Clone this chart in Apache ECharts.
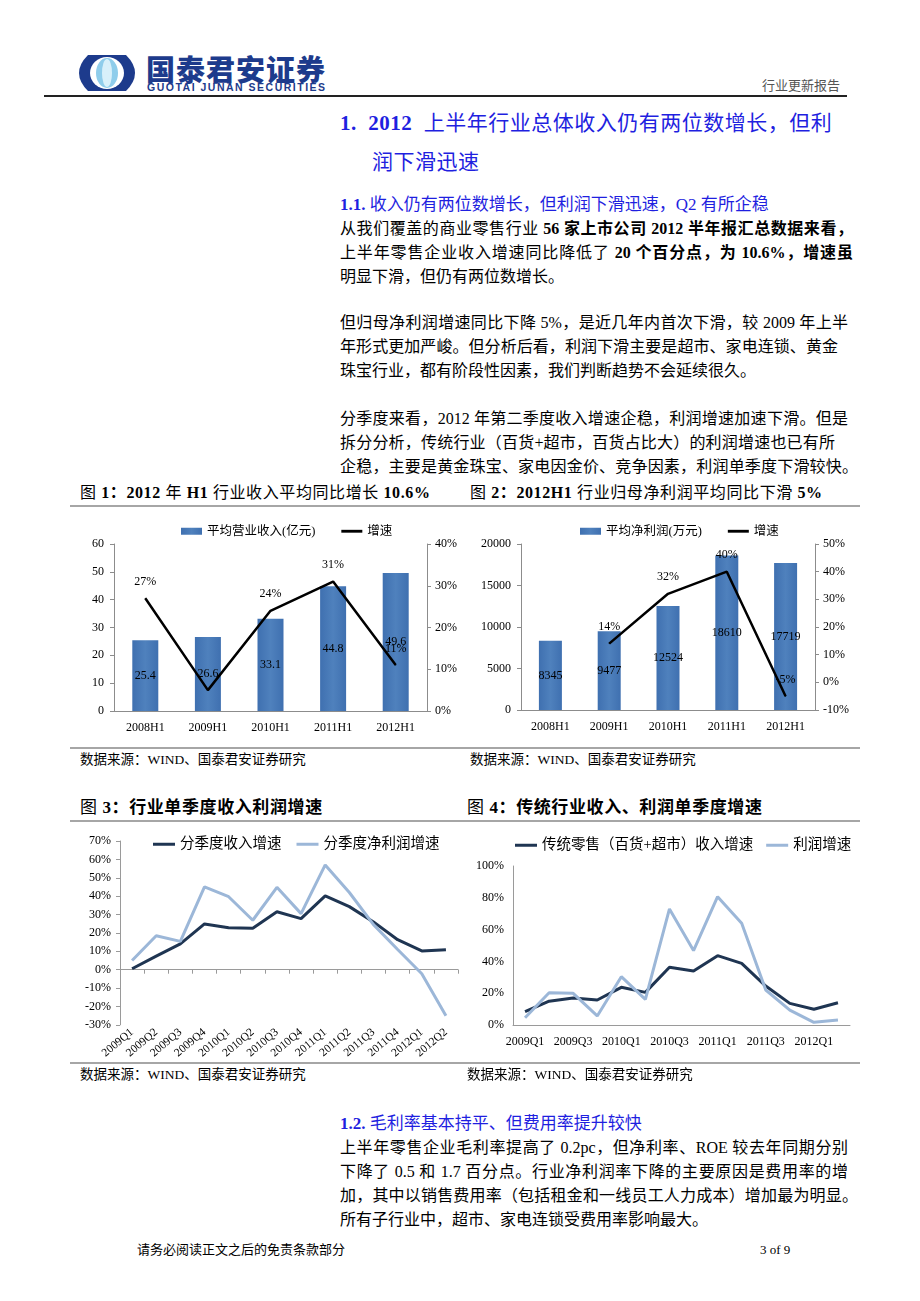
<!DOCTYPE html>
<html>
<head>
<meta charset="utf-8">
<script src="https://cdn.jsdelivr.net/npm/echarts@6/dist/echarts.min.js"></script>
<style>
html,body{margin:0;padding:0;background:#fff;}
body{width:920px;height:1301px;position:relative;overflow:hidden;font-family:"Liberation Serif","Noto Sans CJK SC",serif;color:#000;}
.t{position:absolute;white-space:nowrap;}
.body{font-size:16px;line-height:20px;}
.j{width:513px;text-align:justify;text-align-last:justify;}
.blue{color:#1f1fe0;}
.cap{font-size:16px;line-height:20px;letter-spacing:0.6px;}
.cap b,.body b{font-weight:bold;}
.rule{position:absolute;height:0;border-top:2px solid #a6a6a6;}
.src{font-size:13.5px;line-height:18px;}
.chart{position:absolute;}
</style>
</head>
<body>
<!-- header -->
<svg style="position:absolute;left:78px;top:54px" width="58" height="38" viewBox="0 0 58 38">
  <path d="M10,1 L48,1 Q57,10 57,19 Q57,28 48,37 L10,37 Q1,28 1,19 Q1,10 10,1 Z" fill="#1d3b8c"/>
  <ellipse cx="29" cy="19" rx="17" ry="16" fill="#ffffff"/>
  <ellipse cx="29" cy="19" rx="11" ry="15" fill="#8fcdeb"/>
  <ellipse cx="29" cy="19" rx="5" ry="14" fill="#d8f0fa"/>
</svg>
<div class="t" style="left:146px;top:52px;font-size:29px;line-height:32px;font-weight:900;color:#1d3b8c;font-family:'Noto Sans CJK SC';letter-spacing:1px;">国泰君安证券</div>
<div class="t" style="left:147px;top:81px;font-size:10.5px;line-height:12px;font-weight:bold;color:#1d3b8c;font-family:'Liberation Sans','DejaVu Sans';letter-spacing:1.5px;">GUOTAI JUNAN SECURITIES</div>
<div class="t" style="left:762px;top:76px;font-size:13px;line-height:18px;color:#555;font-family:'Noto Sans CJK SC';">行业更新报告</div>
<div style="position:absolute;left:44px;top:95px;width:803px;height:0;border-top:2px solid #222;"></div>

<div class="t blue" style="left:340px;top:110px;font-size:21px;line-height:26px;letter-spacing:0.5px;"><b>1.&nbsp;&nbsp;2012</b>&nbsp; 上半年行业总体收入仍有两位数增长，但利</div>
<div class="t blue" style="left:372px;top:149px;font-size:21px;line-height:26px;letter-spacing:0.5px;">润下滑迅速</div>
<div class="t blue" style="left:340px;top:194px;font-size:17px;line-height:22px;"><b>1.1.</b> 收入仍有两位数增长，但利润下滑迅速，Q2 有所企稳</div>

<div class="t body j" style="left:340px;top:219px;">从我们覆盖的商业零售行业 <b>56 家上市公司 2012 半年报汇总数据来看，</b></div>
<div class="t body j" style="left:340px;top:243px;">上半年零售企业收入增速同比降低了 <b>20 个百分点，为 10.6%，增速虽</b></div>
<div class="t body" style="left:340px;top:267px;">明显下滑，但仍有两位数增长。</div>

<div class="t body j" style="left:340px;top:313px;width:508px;">但归母净利润增速同比下降 5%，是近几年内首次下滑，较 2009 年上半</div>
<div class="t body j" style="left:340px;top:337px;width:498px;">年形式更加严峻。但分析后看，利润下滑主要是超市、家电连锁、黄金</div>
<div class="t body" style="left:340px;top:361px;">珠宝行业，都有阶段性因素，我们判断趋势不会延续很久。</div>

<div class="t body j" style="left:340px;top:409px;width:508px;">分季度来看，2012 年第二季度收入增速企稳，利润增速加速下滑。但是</div>
<div class="t body j" style="left:340px;top:433px;width:495px;">拆分分析，传统行业（百货+超市，百货占比大）的利润增速也已有所</div>
<div class="t body j" style="left:340px;top:457px;width:518px;">企稳，主要是黄金珠宝、家电因金价、竞争因素，利润单季度下滑较快。</div>

<!-- figure 1/2 titles -->
<div class="t cap" style="left:80px;top:483px;">图 <b>1：2012</b> 年 <b>H1</b> 行业收入平均同比增长 <b>10.6%</b></div>
<div class="t cap" style="left:470px;top:483px;">图 <b>2：2012H1</b> 行业归母净利润平均同比下滑 <b>5%</b></div>
<div class="rule" style="left:70px;top:505px;width:790px;"></div>
<div id="c1" class="chart" style="left:70px;top:510px;width:390px;height:235px;"></div>
<div id="c2" class="chart" style="left:460px;top:510px;width:400px;height:235px;"></div>
<div class="rule" style="left:70px;top:747px;width:790px;"></div>
<div class="t src" style="left:80px;top:751px;">数据来源：WIND、国泰君安证券研究</div>
<div class="t src" style="left:470px;top:751px;">数据来源：WIND、国泰君安证券研究</div>

<!-- figure 3/4 -->
<div class="t cap" style="left:80px;top:798px;font-size:17px;">图 <b>3：行业单季度收入利润增速</b></div>
<div class="t cap" style="left:467px;top:798px;font-size:17px;">图 <b>4：传统行业收入、利润单季度增速</b></div>
<div class="rule" style="left:70px;top:820px;width:790px;"></div>
<div id="c3" class="chart" style="left:70px;top:825px;width:395px;height:236px;"></div>
<div id="c4" class="chart" style="left:460px;top:825px;width:400px;height:236px;"></div>
<div class="rule" style="left:70px;top:1062px;width:790px;"></div>
<div class="t src" style="left:80px;top:1066px;">数据来源：WIND、国泰君安证券研究</div>
<div class="t src" style="left:467px;top:1066px;">数据来源：WIND、国泰君安证券研究</div>

<div class="t blue" style="left:340px;top:1113px;font-size:17px;line-height:22px;"><b>1.2.</b> 毛利率基本持平、但费用率提升较快</div>
<div class="t body j" style="left:340px;top:1138px;width:508px;">上半年零售企业毛利率提高了 0.2pc，但净利率、ROE 较去年同期分别</div>
<div class="t body j" style="left:340px;top:1162px;width:508px;">下降了 0.5 和 1.7 百分点。行业净利润率下降的主要原因是费用率的增</div>
<div class="t body j" style="left:340px;top:1186px;width:518px;">加，其中以销售费用率（包括租金和一线员工人力成本）增加最为明显。</div>
<div class="t body" style="left:340px;top:1210px;">所有子行业中，超市、家电连锁受费用率影响最大。</div>

<div class="t" style="left:137px;top:1241px;font-size:13px;line-height:18px;">请务必阅读正文之后的免责条款部分</div>
<div class="t" style="left:760px;top:1241px;font-size:13px;line-height:18px;">3 of 9</div>

<script>
// ---- data ----
const h1Cats = ['2008H1', '2009H1', '2010H1', '2011H1', '2012H1'];
const avgRevenue = [25.4, 26.6, 33.1, 44.8, 49.6];
const revenueGrowth = [27, 5, 24, 31, 11];
const avgProfit = [8345, 9477, 12524, 18610, 17719];
const profitGrowth = [null, 14, 32, 40, -5];

const quarters = ['2009Q1','2009Q2','2009Q3','2009Q4','2010Q1','2010Q2','2010Q3','2010Q4',
                  '2011Q1','2011Q2','2011Q3','2011Q4','2012Q1','2012Q2'];
const qRevenueGrowth = [0.5, 7.4, 14, 24.9, 22.8, 22.5, 31.5, 27.8, 40.2, 34.3, 26, 16.3, 10.2, 10.9];
const qProfitGrowth = [5, 18.5, 15.4, 45, 39.7, 26.9, 44.8, 30.5, 57, 42, 24.5, 11, -2.2, -25];
const tradRevenueGrowth = [8.4, 15, 17, 15.7, 23.7, 20.5, 36.3, 34, 43.6, 38.8, 24.5, 13.6, 9.9, 14];
const tradProfitGrowth = [4.6, 20.3, 19.9, 5.7, 30.4, 16.1, 73, 46.8, 80.7, 64, 22, 9.4, 1.7, 3.1];

const FONT = "'Liberation Serif','Noto Sans CJK SC',serif";
const BAR = new echarts.graphic.LinearGradient(0, 0, 1, 0, [
  {offset: 0, color: '#3f70b0'}, {offset: 0.5, color: '#4f81bd'}, {offset: 1, color: '#3f70b0'}]);
const AX = {lineStyle: {color: '#8c8c8c', width: 1}};
const LBL = {color: '#000', fontSize: 12, fontFamily: FONT};
const LINE_ICON = 'path://M0,0H22V3H0Z';

function barLineChart(el, cfg) {
  const c = echarts.init(document.getElementById(el), null, {renderer: 'canvas'});
  c.setOption({
    animation: false,
    textStyle: {fontFamily: FONT},
    legend: {
      top: 10, left: cfg.legendLeft, itemWidth: 21, itemHeight: 7, itemGap: 26,
      textStyle: {color: '#000', fontSize: 12.5, fontFamily: FONT},
      data: [{name: cfg.barName, icon: 'rect'}, {name: '增速', icon: LINE_ICON}]
    },
    grid: cfg.grid,
    xAxis: {type: 'category', data: h1Cats, axisLine: AX, axisTick: {show: false},
      axisLabel: Object.assign({margin: 11}, LBL)},
    yAxis: [
      {type: 'value', min: cfg.lmin, max: cfg.lmax, interval: cfg.lint, splitLine: {show: false},
        axisLine: Object.assign({show: true}, AX), axisTick: {show: true, length: 4, lineStyle: {color: '#8c8c8c'}},
        axisLabel: Object.assign({margin: 10, formatter: v => String(v)}, LBL)},
      {type: 'value', min: cfg.rmin, max: cfg.rmax, interval: 10, splitLine: {show: false},
        axisLine: Object.assign({show: true}, AX), axisTick: {show: true, length: 4, lineStyle: {color: '#8c8c8c'}},
        axisLabel: Object.assign({margin: 8, formatter: '{value}%'}, LBL)}
    ],
    series: [
      {name: cfg.barName, type: 'bar', data: cfg.bars, barWidth: cfg.barWidth,
        itemStyle: {color: BAR},
        label: {show: true, position: 'inside', color: '#000', fontSize: 12, fontFamily: FONT}},
      {name: '增速', type: 'line', yAxisIndex: 1, data: cfg.line, symbol: 'circle', symbolSize: 1, showSymbol: true,
        lineStyle: {color: '#000', width: 2.5}, itemStyle: {color: '#000'}, z: 5,
        label: {show: true, position: 'top', distance: 10, color: '#000', fontSize: 12, fontFamily: FONT,
          formatter: p => (cfg.hideLabel === p.dataIndex || p.value == null) ? '' : p.value + '%'}}
    ]
  });
}

barLineChart('c1', {
  barName: '平均营业收入(亿元)', legendLeft: 106,
  grid: {left: 44, top: 34, width: 320, height: 167},
  lmin: 0, lmax: 60, lint: 10, rmin: 0, rmax: 40,
  bars: avgRevenue, line: revenueGrowth, barWidth: 26, hideLabel: 1
});
barLineChart('c2', {
  barName: '平均净利润(万元)', legendLeft: 115,
  grid: {left: 61, top: 34, width: 294, height: 166},
  lmin: 0, lmax: 20000, lint: 5000, rmin: -10, rmax: 50,
  bars: avgProfit, line: profitGrowth, barWidth: 23
});

function twoLineChart(el, cfg) {
  const c = echarts.init(document.getElementById(el), null, {renderer: 'canvas'});
  c.setOption({
    animation: false,
    textStyle: {fontFamily: FONT},
    legend: {
      top: cfg.legendTop, left: cfg.legendLeft, itemWidth: 22, itemHeight: 10, itemGap: cfg.legendGap,
      textStyle: {color: '#000', fontSize: 14.5, fontFamily: FONT},
      data: [{name: cfg.n1, icon: LINE_ICON}, {name: cfg.n2, icon: LINE_ICON}]
    },
    grid: cfg.grid,
    xAxis: {type: 'category', data: quarters, boundaryGap: true,
      axisLine: {onZero: true, lineStyle: {color: '#9a9a9a'}},
      axisTick: {show: cfg.ticks, length: 4, lineStyle: {color: '#9a9a9a'}},
      axisLabel: Object.assign({interval: cfg.labInterval, rotate: cfg.rotate, margin: cfg.labMargin}, LBL, {fontSize: cfg.xFont})},
    yAxis: {type: 'value', min: cfg.min, max: cfg.max, interval: cfg.interval, splitLine: {show: false},
      axisLine: {show: true, lineStyle: {color: '#9a9a9a'}},
      axisTick: {show: cfg.ticks, length: 4, lineStyle: {color: '#9a9a9a'}},
      axisLabel: Object.assign({margin: 9, formatter: '{value}%'}, LBL)},
    series: [
      {name: cfg.n1, type: 'line', data: cfg.d1, symbol: 'none', showSymbol: false, z: 3,
        lineStyle: {color: '#1f3552', width: 3}, itemStyle: {color: '#1f3552'}},
      {name: cfg.n2, type: 'line', data: cfg.d2, symbol: 'none', showSymbol: false, z: 4,
        lineStyle: {color: '#9cb7d8', width: 3}, itemStyle: {color: '#9cb7d8'}}
    ]
  });
}

twoLineChart('c3', {
  n1: '分季度收入增速', n2: '分季度净利润增速',
  legendTop: 7, legendLeft: 78, legendGap: 15,
  grid: {left: 50, top: 16, width: 338, height: 216},
  min: -30, max: 70, interval: 10, ticks: true,
  labInterval: 0, rotate: 40, labMargin: 6, xFont: 11.5,
  d1: qRevenueGrowth, d2: qProfitGrowth
});
twoLineChart('c4', {
  n1: '传统零售（百货+超市）收入增速', n2: '利润增速',
  legendTop: 8, legendLeft: 50, legendGap: 13,
  grid: {left: 53, top: 41, width: 337, height: 159},
  min: 0, max: 100, interval: 20, ticks: false,
  labInterval: 1, rotate: 0, labMargin: 11, xFont: 12,
  d1: tradRevenueGrowth, d2: tradProfitGrowth
});
</script>
</body>
</html>
